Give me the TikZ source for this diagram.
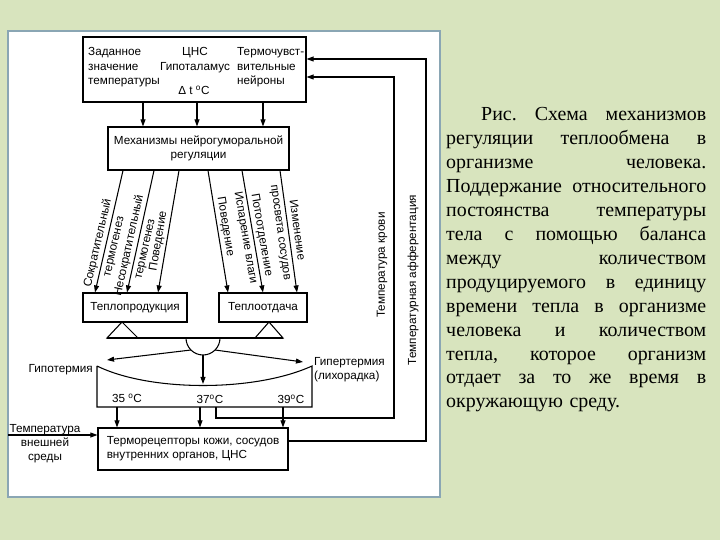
\documentclass[tikz,border=0pt]{standalone}
\usepackage{fontspec}
\setmainfont{Liberation Serif}
\setsansfont{Liberation Sans}
\usetikzlibrary{arrows.meta}
\definecolor{slidegreen}{HTML}{D8E4BE}
\definecolor{panelrim}{HTML}{8AA6B4}
\newcommand\capline[1]{\hbox to 7.8cm{#1}}
\tikzset{
  box/.style={draw, line width=0.9pt, inner sep=0pt, align=center,
    font=\sffamily\fontsize{10}{12}\selectfont},
  lbl/.style={inner sep=0pt, font=\sffamily\fontsize{10}{12}\selectfont},
  slant/.style={inner sep=0pt, sloped, align=center, font=\sffamily\fontsize{10}{14}\selectfont},
  arr/.style={line width=0.9pt, -{Triangle[length=6pt,width=4.2pt]}},
  ln/.style={line width=0.9pt}
}

\begin{document}
\begin{tikzpicture}[x=0.03cm, y=-0.03cm]
\fill[slidegreen] (0,0) rectangle (720,540);
\draw[panelrim, fill=white, line width=1pt] (8,31) rectangle (440,497);
\useasboundingbox (0,0) rectangle (720,540);

\node[box, minimum width=6.69cm, minimum height=1.95cm] (cns) at (194.5,69.5) {};
\node[lbl, text width=2.2cm, align=left, anchor=base west] (setpt) at (88,56) {Заданное\\значение\\температуры};
\node[lbl, text width=2.4cm, align=center, anchor=base] (hypoth) at (195,56) {ЦНС\\Гипоталамус};
\node[lbl, anchor=base] (dt) at (194,95) {Δ t \textsuperscript{o}C};
\node[lbl, text width=2.2cm, align=left, anchor=base west] (neur) at (237,56) {Термочувст-\\вительные\\нейроны};

\node[box, minimum width=5.43cm, minimum height=1.29cm] (mech) at (198.5,148.5) {Механизмы нейрогуморальной\\регуляции};
\foreach \x in {143,197,263}
  \draw[arr] (\x,0 |- cns.south) -- (\x,0 |- mech.north);

\node[box, minimum width=3.12cm, minimum height=0.87cm] (prod) at (135,307.5) {Теплопродукция};
\node[box, minimum width=2.64cm, minimum height=0.87cm] (loss) at (263,307.5) {Теплоотдача};

\draw[arr] (123,0 |- mech.south) -- node[slant, pos=0.61] {Сократительный\\термогенез} (95,0 |- prod.north);
\draw[arr] (154,0 |- mech.south) -- node[slant, pos=0.63] {Несократительный\\термогенез} (127,0 |- prod.north);
\draw[arr] (179,0 |- mech.south) -- node[slant, pos=0.59, above=2pt] {Поведение} (158,0 |- prod.north);
\draw[arr] (208,0 |- mech.south) -- node[slant, pos=0.47, above=2pt] {Поведение} (228,0 |- loss.north);
\draw[arr] (242,0 |- mech.south) -- node[slant, pos=0.54] {Потоотделение\\Испарение влаги} (263,0 |- loss.north);
\draw[arr] (280,0 |- mech.south) -- node[slant, pos=0.5] {Изменение\\просвета сосудов} (297,0 |- loss.north);

\draw[ln] (122,322) -- (107,338) -- (138,338) -- cycle;
\draw[ln] (269,322) -- (255,338) -- (283,338) -- cycle;
\draw[ln] (107,338) -- (283,338);
\draw[ln] (186,338) .. controls (186,347.4) and (193.6,355) .. (203,355)
  .. controls (212.4,355) and (220,347.4) .. (220,338);

\coordinate (hypo) at (107,360);
\coordinate (hyper) at (303,362);
\coordinate (norm) at (203,384);
\draw[arr] (191,350) -- (hypo);
\draw[arr] (215,350) -- (hyper);
\draw[arr] (203,355) -- (norm);
\node[lbl, anchor=east] (hypot) at (93,370) {Гипотермия};
\node[lbl, anchor=west, align=left] (hypert) at (314,369.5) {Гипертермия\\(лихорадка)};

\draw[ln] (97,366) -- (97,407) -- (312,407) -- (312,366) .. controls (255,392) and (150,392) .. (97,366);
\node[lbl] (t35) at (127,398) {35 \textsuperscript{o}C};
\node[lbl] (t37) at (210,399) {37\textsuperscript{o}C};
\node[lbl] (t39) at (291,399) {39\textsuperscript{o}C};

\node[box, minimum width=5.7cm, minimum height=1.26cm, align=left] (recep) at (193,449) {Терморецепторы кожи, сосудов\\внутренних органов, ЦНС};
\foreach \x in {117,200,283}
  \draw[arr] (\x,407) -- (\x,0 |- recep.north);

\draw[arr] (216,407) -- (216,418) -- (394,418) -- (394,77) -- (cns.east |- 0,77);
\draw[arr] (recep.east |- 0,441) -- (426,441) -- (426,59) -- (cns.east |- 0,59);
\node[lbl, rotate=90] (bloodt) at (382,265) {Температура крови};
\node[lbl, rotate=90] (afft) at (413,280) {Температурная афферентация};

\coordinate (ext) at (8,435);
\draw[arr] (ext) -- (recep.west |- ext);
\node[lbl, text width=2.4cm, align=center, anchor=base] (extt) at (45,432) {Температура\\внешней\\среды};

\node[anchor=base west, text width=7.8cm, inner sep=0pt, font=\fontsize{17}{20.4}\selectfont] (capt) at (446,121) {%
\capline{\hspace*{1.05cm}Рис.\hfill Схема\hfill механизмов}
\capline{регуляции\hfill теплообмена\hfill в}
\capline{организме\hfill человека.}
\capline{Поддержание\hfill относительного}
\capline{постоянства\hfill температуры}
\capline{тела\hfill с\hfill помощью\hfill баланса}
\capline{между\hfill количеством}
\capline{продуцируемого\hfill в\hfill единицу}
\capline{времени\hfill тепла\hfill в\hfill организме}
\capline{человека\hfill и\hfill количеством}
\capline{тепла,\hfill которое\hfill организм}
\capline{отдает\hfill за\hfill то\hfill же\hfill время\hfill в}
\capline{окружающую среду.\hfil}};
\end{tikzpicture}
\end{document}
